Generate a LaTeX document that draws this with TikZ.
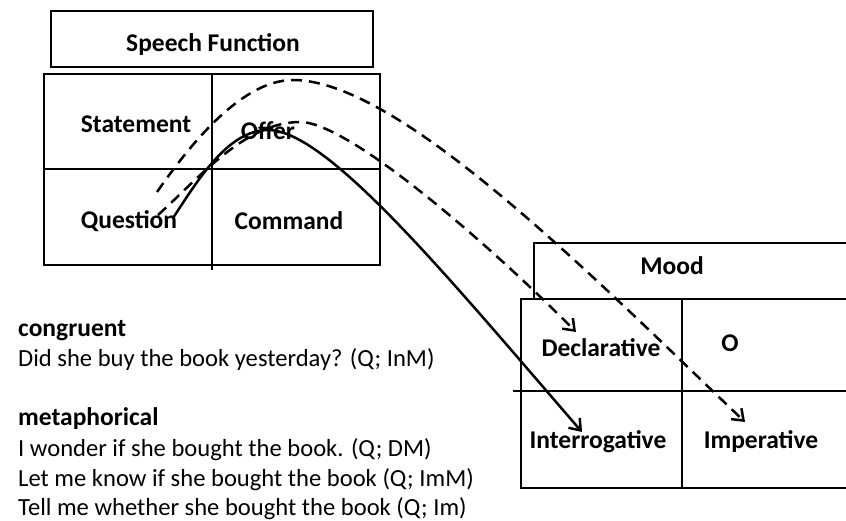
\documentclass[tikz,border=0pt]{standalone}
\usepackage{fontspec}
\setmainfont{Carlito}
\usetikzlibrary{arrows.meta}
\begin{document}
\begin{tikzpicture}[x=1pt,y=-1pt,
  frame/.style={draw=black,line width=2.5pt},
  divider/.style={draw=black,line width=1.2pt},
  lbl/.style={font=\fontsize{25.5}{30}\selectfont\bfseries,inner sep=0pt,anchor=center},
  body/.style={font=\fontsize{24.6}{30}\selectfont,inner sep=0pt,anchor=base west},
  bodyhead/.style={body,font=\fontsize{25.5}{30}\selectfont\bfseries},
  link/.style={line width=2.5pt,-{Straight Barb[length=10pt,width=15pt,line width=2.5pt]}},
  dashlink/.style={link,dash pattern=on 11pt off 7pt}]
\useasboundingbox (0,0) rectangle (846,520);

% Speech function table
\draw[frame] (51,11) rectangle (373,67);
\node[lbl] (sfTitle) at (213,45) {Speech Function};
\draw[frame] (44,74) rectangle (380,265);
\draw[divider] (212,74) -- (212,270);
\draw[divider] (44,169) -- (380,169);
\node[lbl] (stmt) at (136,124) {Statement};
\node[lbl] (offer) at (268,131) {Offer};
\node[lbl] (quest) at (129,221) {Question};
\node[lbl] (cmd) at (289,221) {Command};

% Mood table (runs off the right edge)
\draw[frame] (848,243) -- (534,243) -- (534,299);
\node[lbl] (moodTitle) at (672,266) {Mood};
\draw[frame] (848,299) -- (521,299) -- (521,488) -- (848,488);
\draw[divider] (682,299) -- (682,488);
\draw[divider] (513,391) -- (848,391);
\node[lbl] (decl) at (601,348) {Declarative};
\node[lbl] (oo) at (730,343) {O};
\node[lbl] (inter) at (598,442) {Interrogative};
\node[lbl] (imper) at (761,442) {Imperative};

% Mappings from speech function to mood
\coordinate (qs1) at (173,218);
\coordinate (qs2) at (158,215);
\coordinate (qs3) at (157,192);
\coordinate (tInter) at (582,432);
\coordinate (tDecl) at (576,332);
\coordinate (tImper) at (745,422);
\draw[link] (qs1) .. controls (198,180) and (228,130) .. (268,130)
  .. controls (328,130) and (452,282) .. (tInter);
\draw[dashlink] (qs2) .. controls (198,179) and (245,122) .. (300,122)
  .. controls (350,122) and (495,250) .. (tDecl);
\draw[dashlink] (qs3) .. controls (187,149) and (240,80) .. (293,80)
  .. controls (400,80) and (595,279) .. (tImper);

% Examples
\node[bodyhead] (cong) at (18,336) {congruent};
\node[body] (ex1) at (18,366) {Did she buy the book yesterday? (Q; InM)};
\node[bodyhead] (meta) at (18,425) {metaphorical};
\node[body] (ex2) at (18,456) {I wonder if she bought the book. (Q; DM)};
\node[body] (ex3) at (18,486) {Let me know if she bought the book (Q; ImM)};
\node[body] (ex4) at (18,515) {Tell me whether she bought the book (Q; Im)};
\end{tikzpicture}
\end{document}
